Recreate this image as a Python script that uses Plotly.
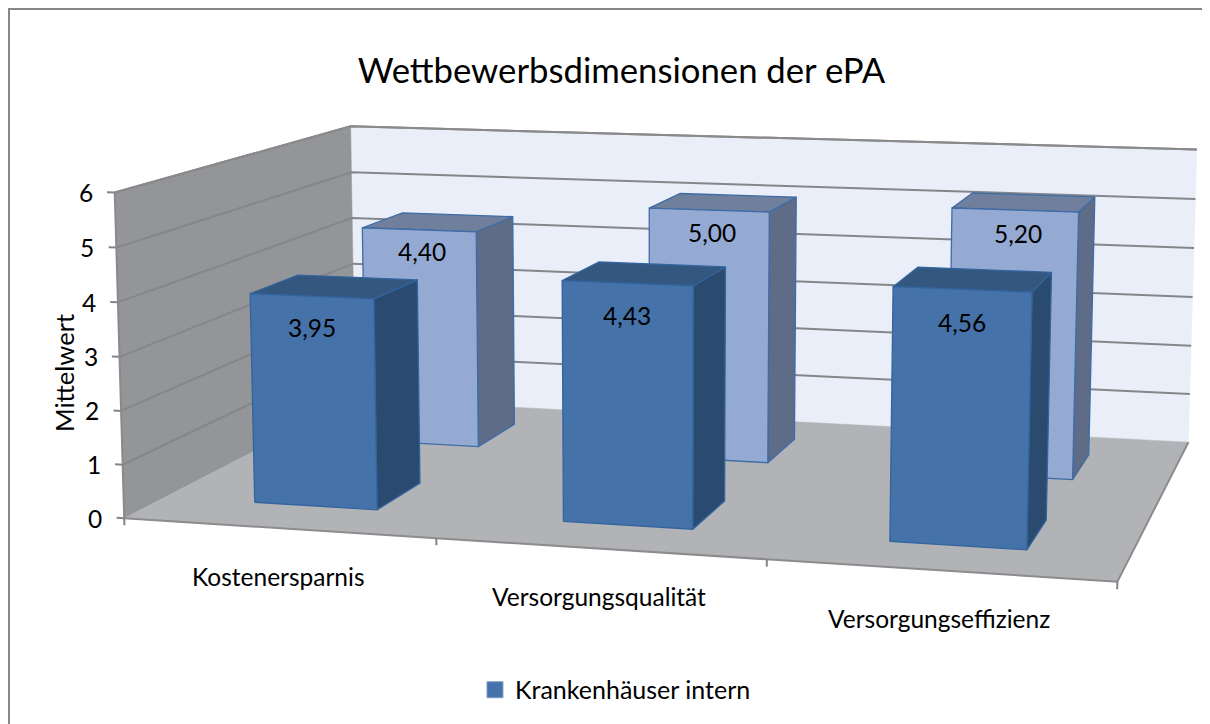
import plotly.graph_objects as go

categories = ["Kostenersparnis", "Versorgungsqualität", "Versorgungseffizienz"]
front_values = [3.95, 4.43, 4.56]
back_values = [4.40, 5.00, 5.20]
front_labels = ["3,95", "4,43", "4,56"]
back_labels = ["4,40", "5,00", "5,20"]
z_ticks = [0, 1, 2, 3, 4, 5, 6]
legend_name = "Krankenhäuser intern"

# 3-D view of the chart box: projective camera (category, series depth, value) -> page position
CAM = [299.94486, 150.77925, -1.9151944, 124.22394,
       4.9562694, -19.942289, -54.850854, 518.25172,
       -0.027838234, 0.099488562, -0.002911348, 1.0]
bar_w = 0.40305902
front_row = (0.30978862, 0.70741704)
back_row = (1.3018285, 1.7036416)


def P(X, Y, Z):
    w = CAM[8] * X + CAM[9] * Y + CAM[10] * Z + CAM[11]
    return ((CAM[0] * X + CAM[1] * Y + CAM[2] * Z + CAM[3]) / w,
            (CAM[4] * X + CAM[5] * Y + CAM[6] * Z + CAM[7]) / w)


fig = go.Figure()


def poly(pts, fill, lc=None, lw=0):
    q = [P(*p) for p in pts]
    q.append(q[0])
    fig.add_trace(go.Scatter(x=[a for a, _ in q], y=[b for _, b in q], mode="lines", fill="toself", fillcolor=fill,
                             line=dict(color=lc or fill, width=lw or 0.5), hoverinfo="skip", showlegend=False))


def line(pts, col, width=2):
    q = [P(*p) for p in pts]
    fig.add_trace(go.Scatter(x=[a for a, _ in q], y=[b for _, b in q], mode="lines",
                             line=dict(color=col, width=width), hoverinfo="skip", showlegend=False))


poly([(0, 2, 0), (3, 2, 0), (3, 2, 6), (0, 2, 6)], "#e9eef8")
poly([(0, 0, 0), (0, 2, 0), (0, 2, 6), (0, 0, 6)], "#939598")
for z in z_ticks[1:]:
    line([(0, 0, z), (0, 2, z), (3, 2, z)], "#84868a", 2)
poly([(0, 0, 0), (3, 0, 0), (3, 2, 0), (0, 2, 0)], "#b1b3b6")
for z in z_ticks:
    line([(-0.025, 0, z), (0, 0, z)], "#848484", 2)
line([(0, 0, 0), (0, 0, 6), (0, 2, 6), (3, 2, 6)], "#8a8a8a", 2)
line([(0, 0, 0), (3, 0, 0), (3, 2, 0)], "#8c8c8c", 2)
for x in range(4):
    line([(x, 0, 0), (x, 0, -0.13)], "#848484", 2)


def bar(i, row, v, fc, sc, tc, ec):
    y0, y1 = row
    x0 = i + .5 - bar_w / 2
    x1 = i + .5 + bar_w / 2
    poly([(x1, y0, 0), (x1, y1, 0), (x1, y1, v), (x1, y0, v)], sc, ec, 1.3)
    poly([(x0, y0, v), (x1, y0, v), (x1, y1, v), (x0, y1, v)], tc, ec, 1.3)
    poly([(x0, y0, 0), (x1, y0, 0), (x1, y0, v), (x0, y0, v)], fc, ec, 1.3)


for i, v in enumerate(back_values):
    bar(i, back_row, v, "#95aad2", "#5f6c87", "#6f7f9c", "#3f6ca6")
for i, v in enumerate(front_values):
    bar(i, front_row, v, "#4572a8", "#2b4a70", "#33577f", "#33649e")

FONT = "Lato"
SZ = 24.5
ann = []


def txt(pt, s, **k):
    a, b = P(*pt)
    ann.append(dict(x=a, y=b, xref="x", yref="y", text=s, showarrow=False,
                    font=dict(size=k.pop("size", SZ), color="#000", family=FONT), **k))


for z in z_ticks:
    txt((0, 0, z), str(z), xshift=-29)
txt((0, 0, 2.7), "Mittelwert", textangle=-90, xshift=-56, size=25.5)
for i, cat in enumerate(categories):
    txt((i + .5, 0, 0), cat, yshift=-48)
    txt((i + .5, front_row[0], front_values[i] - 0.58), front_labels[i])
    txt((i + .5, back_row[0], back_values[i] - 0.45), back_labels[i], xshift=3)

fig.add_trace(go.Scatter(x=[None], y=[None], mode="markers", name=legend_name, showlegend=True,
                         marker=dict(symbol="square", size=16, color="#4572a8", line=dict(color="#7f9fc8", width=1))))

# The page has an 8 px body margin, so the figure covers page x 8..1210, y 8..724.
fig.update_layout(
    width=1202, height=716, margin=dict(l=0, r=0, t=0, b=0), paper_bgcolor="white", plot_bgcolor="white", template=None,
    xaxis=dict(visible=False, range=[8, 1210], fixedrange=True),
    yaxis=dict(visible=False, range=[724, 8], fixedrange=True),
    legend=dict(x=0.3885, y=0.0475, xanchor="left", yanchor="middle", bgcolor="rgba(0,0,0,0)",
                font=dict(size=25, family=FONT, color="#000")),
    title=dict(text="Wettbewerbsdimensionen der ePA", x=0.5104, xanchor="center", y=0.912, yanchor="middle",
               font=dict(size=34.7, family=FONT, color="#000")),
    shapes=[dict(type="line", xref="paper", yref="paper", x0=0, x1=1, y0=1 - 1 / 716, y1=1 - 1 / 716,
                 line=dict(color="#868686", width=2)),
            dict(type="line", xref="paper", yref="paper", x0=1 / 1202, x1=1 / 1202, y0=0, y1=1,
                 line=dict(color="#868686", width=2))],
    annotations=ann)
fig.write_html("out.html")
